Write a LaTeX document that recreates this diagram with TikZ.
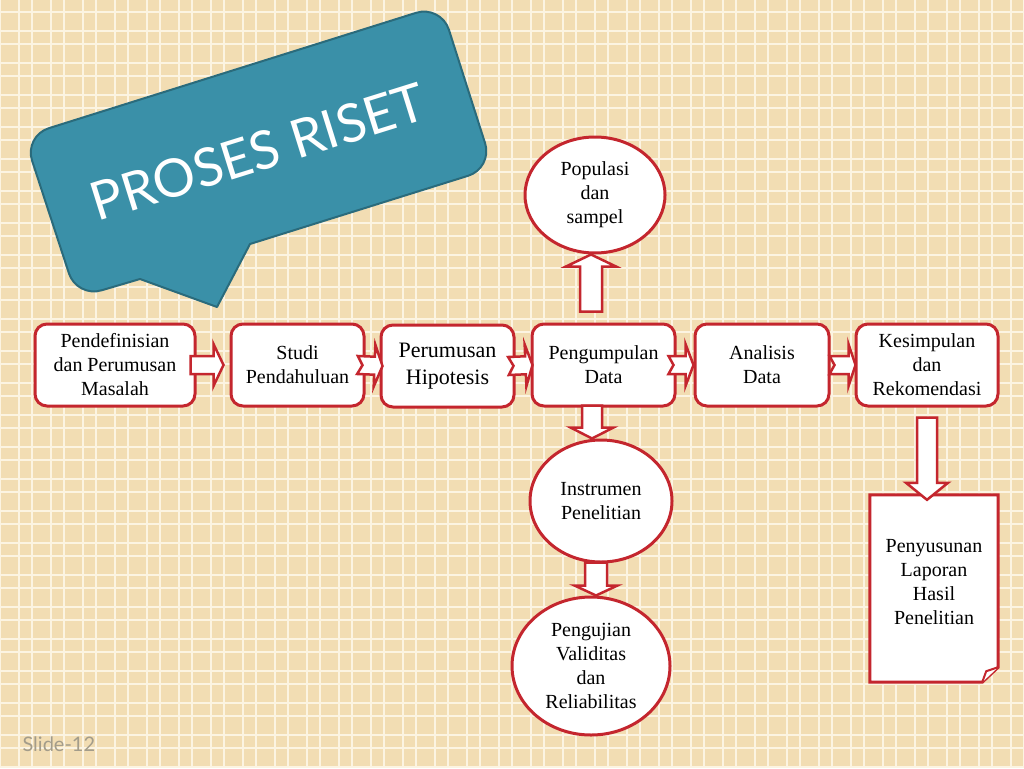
\documentclass[tikz,border=0pt]{standalone}
\usepackage{fontspec}
\setmainfont{Liberation Serif}
\newfontfamily\gillfont{Lato}
\usetikzlibrary{calc,shapes.geometric}
\definecolor{bgbeige}{HTML}{F2DDB3}
\definecolor{gridline}{HTML}{FCF4E2}
\definecolor{redline}{HTML}{C4262E}
\definecolor{callfill}{HTML}{3A90A8}
\definecolor{callline}{HTML}{2A6B7C}
\definecolor{slidegray}{HTML}{A39C8A}
\tikzset{
  every node/.style={font=\fontsize{20}{24}\selectfont},
  procbox/.style={draw=redline, line width=3pt, fill=white, rounded corners=12pt, minimum height=82pt, inner sep=0pt, align=center},
  ovalnode/.style={ellipse, draw=redline, line width=3pt, fill=white, inner sep=0pt, align=center},
  blockstyle/.style={draw=redline, line width=2.5pt, fill=white, line join=miter},
  gridstyle/.style={draw=gridline, line width=2pt},
  calloutstyle/.style={fill=callfill, draw=callline, line width=2pt, line join=round},
}
% block arrow: tail, tip, half shaft, half head, head length, notch depth
\newcommand\blockarrow[6]{%
  \coordinate (tA) at (#1);
  \coordinate (tB) at (#2);
  \coordinate (tH) at ($(tB)!#5!(tA)$);
  \draw[blockstyle] ($(tA)!#3!90:(tB)$) -- ($(tH)!#3!-90:(tA)$) -- ($(tH)!#4!-90:(tA)$) -- (tB)
     -- ($(tH)!#4!90:(tA)$) -- ($(tH)!#3!90:(tA)$) -- ($(tA)!#3!-90:(tB)$) -- ($(tA)!#6!(tB)$) -- cycle;}
\newcommand\rcorner[3]{-- ($(#1)!26pt!(#2)$) .. controls ($(#1)!11.6pt!(#2)$) and ($(#1)!11.6pt!(#3)$) .. ($(#1)!26pt!(#3)$)}
\begin{document}
\begin{tikzpicture}[x=1pt,y=-1pt]
\useasboundingbox (0,0) rectangle (1024,768);
\fill[bgbeige] (0,0) rectangle (1024,768);
\foreach \k in {0,...,32} {
  \draw[gridstyle] (32*\k,0) -- (32*\k,768);
  \draw[gridstyle] (32*\k+19,0) -- (32*\k+19,768);
}
\foreach \k in {0,...,24} {
  \draw[gridstyle] (0,32*\k-1) -- (1024,32*\k-1);
  \draw[gridstyle] (0,32*\k+12) -- (1024,32*\k+12);
}
% callout
\coordinate (TL) at (24,136);
\coordinate (TR) at (441,5);
\coordinate (BR) at (493,168);
\coordinate (BL) at (77,298);
\coordinate (PR) at (250,244);
\coordinate (TIP) at (217,307);
\coordinate (PL) at (140,279);
\draw[calloutstyle] (PR) -- (TIP) -- (PL) \rcorner{BL}{BR}{TL} \rcorner{TL}{BL}{TR} \rcorner{TR}{TL}{BR} \rcorner{BR}{TR}{BL} -- cycle;
\node[rotate=17.35, text=white, font=\gillfont\fontsize{53}{60}\selectfont] (title) at (258,152) {PROSES RISET};
% process boxes
\node[procbox, minimum width=160pt] (b1) at (115,365) {Pendefinisian\\dan Perumusan\\Masalah};
\node[procbox, minimum width=133pt] (b2) at (297.5,365) {Studi\\Pendahuluan};
\node[procbox, minimum width=133pt, font=\fontsize{22}{27}\selectfont] (b3) at (447.5,366) {Perumusan\\Hipotesis};
\node[procbox, minimum width=143pt] (b4) at (603.5,365) {Pengumpulan\\Data};
\node[procbox, minimum width=134pt] (b5) at (762,365) {Analisis\\Data};
\node[procbox, minimum width=142pt] (b6) at (927,365) {Kesimpulan\\dan\\Rekomendasi};
% ovals
\node[ovalnode, minimum width=140pt, minimum height=116pt] (e1) at (595,195) {Populasi\\dan\\sampel};
\node[ovalnode, minimum width=142pt, minimum height=122pt] (e2) at (601,501) {Instrumen\\Penelitian};
\node[ovalnode, minimum width=158pt, minimum height=138pt] (e3) at (591,666) {Pengujian\\Validitas\\dan\\Reliabilitas};
% report document
\node[minimum width=128pt, minimum height=187pt, inner sep=0pt] (doc) at (934,588.5) {};
\draw[draw=redline, line width=3pt, fill=white, line join=miter] (doc.north west) -- (doc.north east) -- ($(doc.south east)+(0,-15)$) -- ($(doc.south east)+(-16,0)$) -- (doc.south west) -- cycle;
\draw[draw=redline, line width=2pt, fill=white, line join=round] ($(doc.south east)+(0,-15)$) -- ($(doc.south east)+(-12,-11)$) -- ($(doc.south east)+(-16,0)$);
\node[align=center] (doctext) at ($(doc.center)+(0,-6)$) {Penyusunan\\Laporan\\Hasil\\Penelitian};
% horizontal arrows
\blockarrow{$(b1.east)+(-6,0)$}{$(b2.west)+(-6,0)$}{9pt}{21pt}{10pt}{0pt}
\blockarrow{$(b2.east)+(-8,0)$}{$(b3.west)+(3,0)$}{9pt}{21pt}{8pt}{5pt}
\blockarrow{$(b3.east)+(-7,0)$}{$(b4.west)+(2,0)$}{9pt}{21pt}{7pt}{5pt}
\blockarrow{$(b4.east)+(-8,0)$}{$(b5.west)+(0,0)$}{9pt}{21pt}{8pt}{5pt}
\blockarrow{$(b5.east)+(-1,0)$}{$(b6.west)+(1,0)$}{9pt}{21pt}{7pt}{5pt}
% vertical arrows
\coordinate (u1) at ($(b4.north)+(-12.5,-11)$);
\coordinate (u2) at (u1 |- e1.south);
\blockarrow{u1}{u2}{11pt}{25pt}{12pt}{0pt}
\coordinate (d1) at ($(b4.south)+(-11.5,-2)$);
\coordinate (d2) at (d1 |- e2.north);
\blockarrow{d1}{d2}{10pt}{21.5pt}{11pt}{0pt}
\coordinate (f1) at ($(e2.south)+(-5,-1)$);
\coordinate (f2) at (f1 |- e3.north);
\blockarrow{f1}{f2}{11pt}{21.5pt}{10pt}{0pt}
\coordinate (g1) at ($(b6.south)+(0,10)$);
\coordinate (g2) at ($(g1 |- doc.north)+(0,5)$);
\blockarrow{g1}{g2}{10pt}{21pt}{17pt}{0pt}
% slide label
\node[anchor=west, text=slidegray, font=\gillfont\fontsize{20}{24}\selectfont] (slide) at (19,744) {Slide-12};
\end{tikzpicture}
\end{document}
